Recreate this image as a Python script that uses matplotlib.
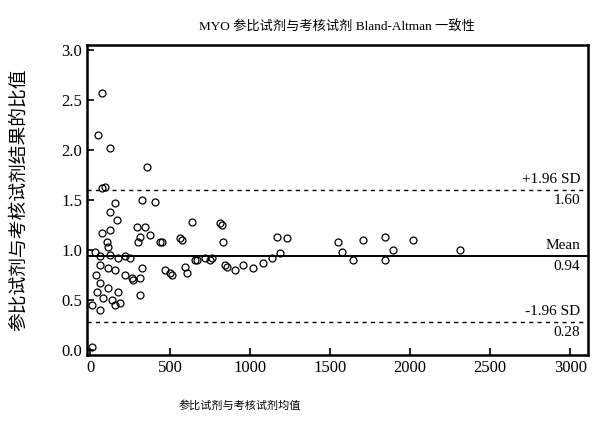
import numpy as np
import matplotlib
matplotlib.use('Agg')
import matplotlib.pyplot as plt

plt.rcParams['font.family'] = ['Liberation Serif', 'Noto Sans CJK SC']

# Mean of the two reagents (x) and ratio reference/test (y)
mean_vals = [75, 50, 125, 356, 75, 90,
             406, 325, 156, 125, 169, 75, 125, 294, 344, 312, 375, 300,
             637, 825, 450, 575, 106, 112,
             30, 60, 125, 175, 220, 250,
             60, 112, 156, 219, 269, 312, 37, 62, 112, 175, 44, 81, 137, 187,
             12, 62, 156,
             262, 325, 312, 512, 470, 594, 656, 719, 762, 844, 906,
             856, 956, 1019, 1081, 1137, 1169, 1231, 1187, 437, 562, 812, 831,
             500, 606, 669, 750,
             1550, 1575, 1644, 1706, 1844, 1844, 1894, 2019, 2312, 10]
ratio_vals = [2.57, 2.15, 2.02, 1.83, 1.62, 1.63,
              1.48, 1.50, 1.47, 1.38, 1.30, 1.17, 1.20, 1.23, 1.23, 1.13, 1.15, 1.08,
              1.28, 1.25, 1.08, 1.10, 1.08, 1.03,
              0.98, 0.94, 0.95, 0.92, 0.94, 0.92,
              0.85, 0.82, 0.80, 0.75, 0.70, 0.72, 0.75, 0.67, 0.62, 0.58, 0.58, 0.52, 0.50, 0.47,
              0.45, 0.40, 0.45,
              0.72, 0.82, 0.55, 0.75, 0.80, 0.83, 0.90, 0.92, 0.92, 0.85, 0.80,
              0.83, 0.85, 0.82, 0.87, 0.92, 1.13, 1.12, 0.97, 1.08, 1.12, 1.27, 1.08,
              0.77, 0.77, 0.90, 0.90,
              1.08, 0.98, 0.90, 1.10, 1.13, 0.90, 1.00, 1.10, 1.00, 0.03]

mean_ratio = 0.94
upper_loa = 1.60
lower_loa = 0.28

x_ticks = [0, 500, 1000, 1500, 2000, 2500, 3000]
y_ticks = [0.0, 0.5, 1.0, 1.5, 2.0, 2.5, 3.0]

fig = plt.figure(figsize=(5.98, 4.32), dpi=100)
ax = fig.add_axes([0.1455, 0.178, 0.8375, 0.718])

# Scatter of open circles
ax.plot(mean_vals, ratio_vals, 'o', mfc='none', mec='black', ms=5, mew=0.9)

# Mean and limits of agreement
ax.axhline(mean_ratio, color='black', lw=1.4)
ax.axhline(upper_loa, color='black', lw=1.0, ls=(0, (3, 3)))
ax.axhline(lower_loa, color='black', lw=1.0, ls=(0, (3, 3)))

ax.set_xlim(-20, 3110)
ax.set_ylim(-0.05, 3.05)
ax.set_xticks(x_ticks)
ax.set_yticks(y_ticks)
ax.set_yticklabels(['%.1f' % v for v in y_ticks])
ax.tick_params(direction='in', length=5, width=1.2, labelsize=12)

for s in ax.spines.values():
    s.set_linewidth(1.8)

# Labels on the right side of the lines
xr = 0.985
tr = ax.get_yaxis_transform()
ax.text(xr, upper_loa + 0.04, '+1.96 SD', transform=tr, ha='right', va='bottom', fontsize=11)
ax.text(xr, upper_loa - 0.04, '%.2f' % upper_loa, transform=tr, ha='right', va='top', fontsize=11)
ax.text(xr, mean_ratio + 0.04, 'Mean', transform=tr, ha='right', va='bottom', fontsize=11)
ax.text(xr, mean_ratio - 0.04, '%.2f' % mean_ratio, transform=tr, ha='right', va='top', fontsize=11)
ax.text(xr, lower_loa + 0.04, '-1.96 SD', transform=tr, ha='right', va='bottom', fontsize=11)
ax.text(xr, lower_loa - 0.04, '%.2f' % lower_loa, transform=tr, ha='right', va='top', fontsize=11)

ax.set_title('MYO 参比试剂与考核试剂 Bland-Altman 一致性', fontsize=9.5, pad=10)
ax.set_ylabel('参比试剂与考核试剂结果的比值', fontsize=13.5)
ax.yaxis.set_label_coords(-0.118, 0.5)
ax.set_xlabel('参比试剂与考核试剂均值', fontsize=8)
ax.xaxis.set_label_coords(0.305, -0.145)

fig.savefig('out.png', dpi=100)
